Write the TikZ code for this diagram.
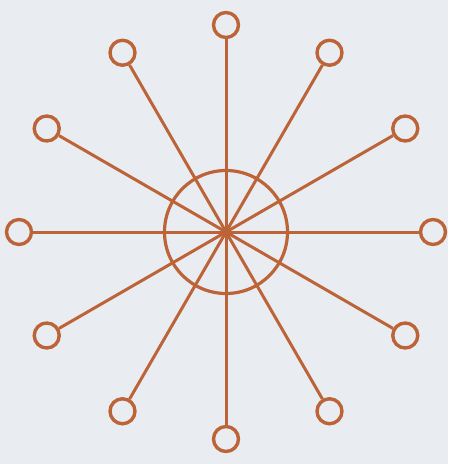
\documentclass[tikz,border=0pt]{standalone}
\definecolor{cop}{RGB}{188,100,55}
\definecolor{bg}{RGB}{233,237,242}
\begin{document}
\begin{tikzpicture}[x=1pt,y=-1pt,
  ring/.style={circle,draw=cop,line width=3.4pt,minimum size=25pt,inner sep=0pt},
  hub/.style={circle,draw=cop,line width=3.2pt,minimum size=123pt,inner sep=0pt},
  spoke/.style={draw=cop,line width=3pt}]
\fill[bg] (0,0) rectangle (448,464);
\useasboundingbox (0,0) rectangle (448,464);
\node[hub] (h) at (226,232) {};
\coordinate (c) at (226,232);
\foreach \i in {0,...,11}{
  \node[ring] (r\i) at ([shift={(\i*30:207)}]c) {};
}
\foreach \i in {0,...,11}{
  \draw[spoke] (c) -- (r\i);
}
\fill[cop] (c) circle (4.5pt);
\end{tikzpicture}
\end{document}
